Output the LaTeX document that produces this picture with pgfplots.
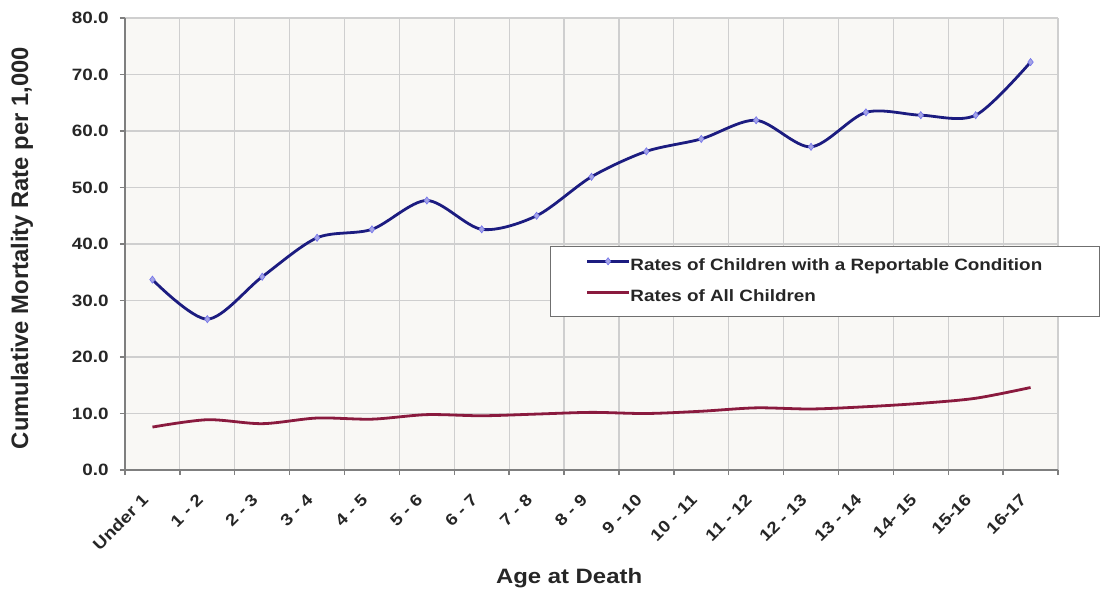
\documentclass[border=0pt]{standalone}
\usepackage{fontspec}
\setmainfont{Liberation Sans}[FakeStretch=1.15]
\newfontfamily\ylabfont{Liberation Sans}
\usepackage{pgfplots}
\pgfplotsset{compat=1.18}
\definecolor{plotbg}{HTML}{F9F8F5}
\definecolor{gridc}{HTML}{CFCFCF}
\definecolor{axisc}{HTML}{7F7F7F}
\definecolor{blueline}{HTML}{1C1C80}
\definecolor{bluemark}{HTML}{A4A4E4}
\definecolor{redline}{HTML}{8A1A3E}
\definecolor{legc}{HTML}{6F6F6F}
\begin{document}
\begin{tikzpicture}
\useasboundingbox (0,0) rectangle (550pt,298pt);
\begin{axis}[
  at={(62.5pt,63pt)}, anchor=south west,
  scale only axis, width=466.5pt, height=226pt,
  xmin=-0.5, xmax=16.5, ymin=0, ymax=80,
  axis x line*=bottom, axis y line*=left,
  axis background/.style={fill=plotbg},
  xtick={0,...,16},
  xticklabels={Under 1,1 - 2,2 - 3,3 - 4,4 - 5,5 - 6,6 - 7,7 - 8,8 - 9,9 - 10,10 - 11,11 - 12,12 - 13,13 - 14,14- 15,15-16,16-17},
  major x tick style={draw=none},
  minor xtick={-0.5,0.5,...,16.5},
  xminorgrids=true,
  ytick={0,10,...,80},
  ymajorgrids=true,
  tick align=outside,
  major tick length=2.5pt, minor tick length=2.5pt,
  tick style={draw=axisc, line width=0.7pt},
  grid style={draw=gridc, line width=0.6pt},
  minor grid style={draw=gridc, line width=0.6pt},
  axis line style={draw=axisc, line width=0.8pt, -},
  /pgf/number format/assume math mode=true,
  yticklabel={\pgfmathprintnumber[fixed,fixed zerofill,precision=1]{\tick}},
  ticklabel style={font=\bfseries\fontsize{8.2}{9}\selectfont, text=black!85},
  xticklabel style={xshift=-3.5pt, yshift=-11pt, rotate=45, anchor=east, inner sep=0pt},
  yticklabel style={anchor=east, inner sep=0pt, xshift=-5.5pt},
  xlabel={Age at Death},
  xlabel style={at={(axis description cs:0.476,-0.252)}, anchor=base, font=\bfseries\fontsize{10.4}{12}\selectfont, text=black!85},
  ylabel={Cumulative Mortality Rate per 1,000},
  ylabel style={at={(axis description cs:-0.1104,0.491)}, anchor=center, font=\ylabfont\bfseries\fontsize{11.9}{14}\selectfont, text=black!85},
  legend style={at={(axis description cs:0.4555,0.4956)}, anchor=north west,
    draw=legc, fill=white, line width=0.7pt,
    inner xsep=17.5pt, inner ysep=5.5pt, row sep=7.5pt, column sep=0pt,
    font=\bfseries\fontsize{8.2}{9}\selectfont, text=black!85,
    nodes={inner sep=0pt, text height=6pt, text depth=2pt}},
  legend cell align=left,
  legend image code/.code={\draw[mark repeat=2,mark phase=2,#1] plot coordinates {(0pt,2.5pt) (10.5pt,2.5pt) (21pt,2.5pt)};},
]
\addplot[blueline, line width=1.4pt, smooth, mark=diamond*, mark size=1.8pt,
  mark options={solid, fill=bluemark, draw=bluemark!70!blue, line width=0.3pt}]
  coordinates {(0,33.7) (1,26.7) (2,34.2) (3,41.1) (4,42.6) (5,47.7) (6,42.6) (7,45.0) (8,51.9) (9,56.4) (10,58.6) (11,61.9) (12,57.2) (13,63.3) (14,62.8) (15,62.8) (16,72.2)};
\addlegendentry{\makebox[217pt][l]{Rates of Children with a Reportable Condition}}
\addplot[redline, line width=1.4pt, smooth]
  coordinates {(0,7.6) (1,8.9) (2,8.2) (3,9.2) (4,9.0) (5,9.8) (6,9.6) (7,9.9) (8,10.2) (9,10.0) (10,10.4) (11,11.0) (12,10.8) (13,11.2) (14,11.8) (15,12.7) (16,14.6)};
\addlegendentry{\makebox[217pt][l]{Rates of All Children}}
\end{axis}
\end{tikzpicture}
\end{document}
